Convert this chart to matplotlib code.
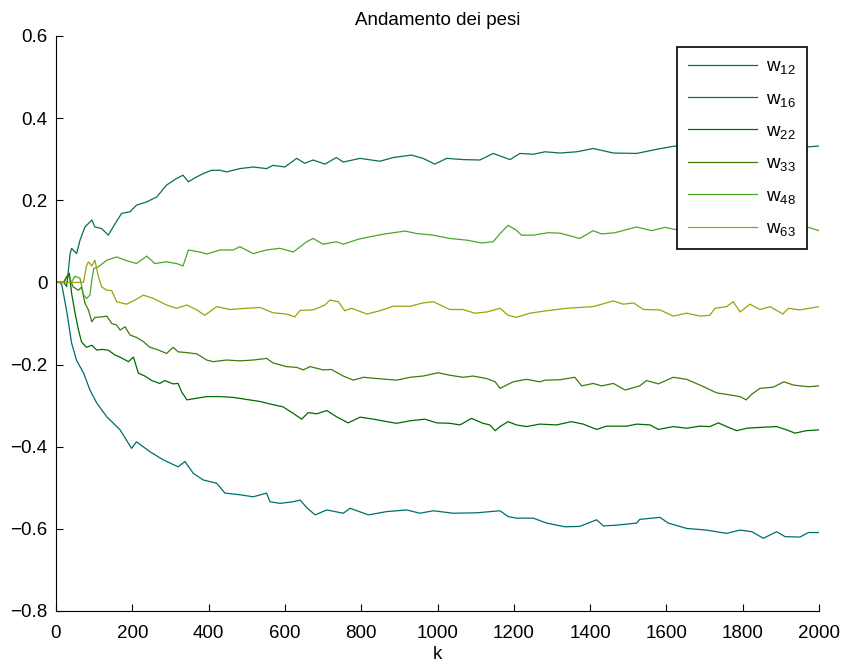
import matplotlib
matplotlib.use("Agg")
import matplotlib.pyplot as plt

plt.rcParams["font.family"] = ["Liberation Sans", "DejaVu Sans"]
plt.rcParams["mathtext.default"] = "regular"

# andamento dei pesi w_ij durante l'addestramento (k = passo)
k_w12 = [0, 10, 15, 28, 41, 54, 72, 89, 107, 133, 168, 198, 211, 246, 281, 320, 338, 360, 386,
         421, 443, 482, 517, 552, 561, 587, 622, 640, 657, 679, 710, 753, 771, 819, 867, 919,
         954, 989, 1041, 1102, 1164, 1185, 1207, 1251, 1286, 1334, 1373, 1417, 1435, 1470,
         1522, 1530, 1583, 1605, 1653, 1705, 1758, 1793, 1824, 1854, 1889, 1911, 1950, 1972, 2000]
w12 = [0, 0, -0.005, -0.07, -0.148, -0.19, -0.22, -0.262, -0.294, -0.327, -0.359, -0.404,
       -0.388, -0.412, -0.432, -0.449, -0.436, -0.465, -0.481, -0.489, -0.513, -0.517, -0.522,
       -0.513, -0.534, -0.538, -0.534, -0.53, -0.548, -0.566, -0.554, -0.562, -0.55, -0.566,
       -0.558, -0.554, -0.562, -0.556, -0.562, -0.561, -0.556, -0.57, -0.574, -0.574, -0.586,
       -0.595, -0.594, -0.578, -0.593, -0.591, -0.586, -0.577, -0.572, -0.586, -0.599, -0.603,
       -0.611, -0.603, -0.607, -0.623, -0.607, -0.619, -0.62, -0.609, -0.609]

k_w16 = [0, 20, 28, 37, 41, 54, 63, 76, 94, 102, 120, 137, 155, 172, 194, 211, 238, 264, 290,
         316, 333, 347, 369, 386, 408, 430, 447, 482, 517, 552, 569, 600, 631, 652, 674, 705,
         735, 753, 797, 849, 884, 932, 962, 993, 1024, 1067, 1111, 1146, 1190, 1216, 1251,
         1282, 1321, 1365, 1408, 1461, 1522, 1574, 1622, 1700, 1800, 1900, 1972, 2000]
w16 = [0, 0, -0.01, 0.07, 0.083, 0.07, 0.103, 0.135, 0.152, 0.135, 0.131, 0.115, 0.143, 0.168,
       0.172, 0.188, 0.196, 0.208, 0.237, 0.253, 0.261, 0.245, 0.257, 0.265, 0.273, 0.273,
       0.269, 0.277, 0.281, 0.277, 0.285, 0.281, 0.302, 0.29, 0.298, 0.288, 0.304, 0.293,
       0.302, 0.295, 0.304, 0.31, 0.302, 0.288, 0.302, 0.299, 0.298, 0.314, 0.299, 0.314,
       0.312, 0.318, 0.315, 0.318, 0.326, 0.315, 0.314, 0.324, 0.332, 0.33, 0.328, 0.332,
       0.33, 0.332]

k_w22 = [0, 20, 28, 35, 41, 50, 59, 67, 80, 94, 107, 120, 137, 155, 168, 190, 203, 216, 233,
         251, 272, 285, 307, 320, 329, 343, 369, 395, 430, 465, 500, 535, 561, 595, 622, 644,
         661, 683, 710, 735, 766, 797, 832, 867, 893, 928, 967, 998, 1032, 1059, 1089, 1119,
         1137, 1151, 1164, 1185, 1207, 1233, 1268, 1312, 1351, 1382, 1417, 1443, 1496, 1522,
         1557, 1579, 1618, 1653, 1688, 1714, 1736, 1758, 1784, 1811, 1845, 1889, 1915, 1937,
         1967, 2000]
w22 = [0, 0, 0.014, 0.022, -0.027, -0.075, -0.116, -0.145, -0.158, -0.153, -0.165, -0.163,
       -0.165, -0.177, -0.182, -0.193, -0.182, -0.221, -0.228, -0.239, -0.246, -0.239, -0.247,
       -0.246, -0.266, -0.286, -0.282, -0.278, -0.278, -0.28, -0.285, -0.29, -0.296, -0.303,
       -0.319, -0.333, -0.317, -0.32, -0.312, -0.327, -0.342, -0.328, -0.333, -0.339, -0.343,
       -0.337, -0.333, -0.342, -0.343, -0.347, -0.331, -0.343, -0.347, -0.361, -0.351, -0.339,
       -0.347, -0.351, -0.345, -0.347, -0.339, -0.345, -0.358, -0.35, -0.35, -0.345, -0.347,
       -0.358, -0.351, -0.355, -0.35, -0.351, -0.342, -0.351, -0.361, -0.355, -0.353, -0.351,
       -0.359, -0.367, -0.361, -0.359]

k_w33 = [0, 20, 32, 45, 59, 67, 76, 85, 94, 102, 120, 133, 146, 159, 168, 181, 194, 211, 229,
         246, 264, 290, 307, 320, 343, 369, 395, 412, 447, 482, 517, 552, 569, 604, 631, 648,
         666, 700, 722, 753, 779, 806, 841, 893, 928, 962, 1002, 1032, 1067, 1093, 1129, 1151,
         1164, 1181, 1198, 1233, 1268, 1282, 1321, 1360, 1378, 1408, 1430, 1461, 1492, 1530,
         1548, 1579, 1618, 1653, 1688, 1732, 1767, 1793, 1809, 1824, 1845, 1880, 1908, 1933,
         1972, 2000]
w33 = [0, 0, 0.018, -0.011, -0.019, -0.011, -0.051, -0.067, -0.096, -0.085, -0.084, -0.082,
       -0.1, -0.104, -0.116, -0.108, -0.128, -0.134, -0.144, -0.158, -0.163, -0.173, -0.158,
       -0.169, -0.171, -0.174, -0.189, -0.193, -0.189, -0.191, -0.189, -0.185, -0.196, -0.205,
       -0.207, -0.213, -0.205, -0.213, -0.212, -0.228, -0.238, -0.231, -0.234, -0.238, -0.231,
       -0.228, -0.22, -0.226, -0.231, -0.228, -0.234, -0.242, -0.258, -0.25, -0.242, -0.236,
       -0.242, -0.238, -0.237, -0.231, -0.252, -0.246, -0.252, -0.246, -0.262, -0.252, -0.239,
       -0.247, -0.231, -0.236, -0.25, -0.269, -0.274, -0.278, -0.286, -0.272, -0.258, -0.255,
       -0.242, -0.25, -0.254, -0.252]

k_w48 = [0, 40, 50, 63, 72, 80, 89, 94, 99, 111, 133, 159, 185, 211, 238, 259, 290, 316, 333,
         347, 377, 395, 430, 465, 482, 517, 552, 587, 622, 657, 674, 700, 735, 753, 792, 822,
         862, 915, 945, 989, 1032, 1076, 1116, 1146, 1164, 1185, 1207, 1220, 1251, 1290, 1321,
         1373, 1408, 1430, 1465, 1522, 1561, 1596, 1622, 1750, 1900, 1972, 2000]
w48 = [0, 0, 0.015, 0.01, -0.03, -0.039, -0.031, 0.006, 0.034, 0.038, 0.054, 0.062, 0.053,
       0.046, 0.064, 0.046, 0.05, 0.046, 0.04, 0.079, 0.074, 0.069, 0.079, 0.079, 0.087, 0.07,
       0.079, 0.083, 0.074, 0.099, 0.107, 0.093, 0.099, 0.093, 0.105, 0.111, 0.118, 0.125,
       0.119, 0.115, 0.107, 0.103, 0.096, 0.099, 0.119, 0.139, 0.127, 0.115, 0.115, 0.121,
       0.12, 0.107, 0.126, 0.118, 0.121, 0.135, 0.126, 0.134, 0.129, 0.13, 0.132, 0.134, 0.126]

k_w63 = [0, 72, 80, 85, 94, 102, 111, 120, 133, 146, 159, 185, 207, 229, 255, 290, 316, 343,
         369, 390, 421, 456, 500, 535, 569, 604, 626, 640, 674, 705, 718, 740, 757, 775, 815,
         849, 884, 928, 962, 989, 1032, 1067, 1098, 1129, 1164, 1185, 1207, 1242, 1286, 1338,
         1373, 1408, 1461, 1487, 1514, 1540, 1583, 1618, 1653, 1688, 1714, 1727, 1758, 1775,
         1793, 1819, 1845, 1872, 1905, 1920, 1950, 2000]
w63 = [0, 0, 0.04, 0.05, 0.04, 0.054, 0.014, -0.011, -0.019, -0.02, -0.047, -0.053, -0.043,
       -0.031, -0.039, -0.055, -0.063, -0.055, -0.067, -0.08, -0.059, -0.066, -0.063, -0.061,
       -0.074, -0.077, -0.084, -0.068, -0.067, -0.055, -0.043, -0.047, -0.069, -0.063, -0.077,
       -0.069, -0.058, -0.058, -0.05, -0.047, -0.066, -0.066, -0.075, -0.072, -0.063, -0.08,
       -0.085, -0.075, -0.069, -0.063, -0.061, -0.059, -0.045, -0.053, -0.05, -0.066, -0.067,
       -0.082, -0.075, -0.082, -0.08, -0.063, -0.059, -0.047, -0.072, -0.053, -0.066, -0.059,
       -0.077, -0.063, -0.067, -0.059]

labels = ["12", "16", "22", "33", "48", "63"]
colori = ["#006d6d", "#0a7048", "#006a00", "#3f7a0c", "#48a82a", "#a0a00a"]

fig = plt.figure(figsize=(8.42, 6.66), dpi=100)
ax = fig.add_axes([0.0665, 0.0826, 0.9062, 0.8634])

serie = [(k_w12, w12), (k_w16, w16), (k_w22, w22), (k_w33, w33), (k_w48, w48), (k_w63, w63)]
for (kk, ww), lab, col in zip(serie, labels, colori):
    ax.plot(kk, ww, color=col, linewidth=0.9, label=r"$w_{%s}$" % lab)

ax.set_xlim(0, 2000)
ax.set_ylim(-0.8, 0.6)
ax.set_xticks(range(0, 2001, 200))
ax.set_yticks([-0.8, -0.6, -0.4, -0.2, 0, 0.2, 0.4, 0.6])
ax.set_yticklabels(["\u22120.8", "\u22120.6", "\u22120.4", "\u22120.2", "0", "0.2", "0.4", "0.6"])
ax.spines["top"].set_visible(False)
ax.spines["right"].set_visible(False)
ax.tick_params(direction="in", length=5, labelsize=13.5)
ax.tick_params(axis="x", pad=10)
ax.tick_params(axis="y", pad=6)

ax.set_title("Andamento dei pesi", fontsize=13.5, pad=8)
ax.set_xlabel("k", fontsize=13.5, labelpad=3)

leg = ax.legend(loc="upper right", bbox_to_anchor=(0.984, 0.981), fontsize=13.5,
                handlelength=3.7, labelspacing=0.76, fancybox=False, framealpha=1,
                edgecolor="black", borderpad=0.6, handletextpad=0.45, borderaxespad=0)
leg.get_frame().set_linewidth(1.2)

fig.savefig("out.png", dpi=100)
